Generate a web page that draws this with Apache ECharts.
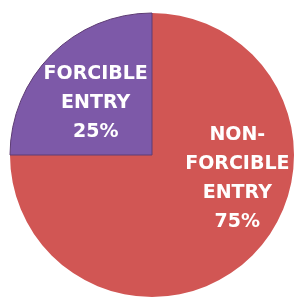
<!DOCTYPE html>
<html>
<head>
<meta charset="utf-8">
<script src="https://cdn.jsdelivr.net/npm/echarts@6/dist/echarts.min.js"></script>
<style>
  html, body { margin: 0; padding: 0; background: #fff; }
  #chart { width: 298px; height: 297px; }
</style>
</head>
<body>
<div id="chart"></div>
<script>
// slices, clockwise from 12 o'clock
const categories = ['NON-\nFORCIBLE\nENTRY', 'FORCIBLE\nENTRY'];
const values = [75, 25];
const colors = ['#d15654', '#7d59a8'];
const borders = [0, 1];
const labelOffsets = [[33, -29], [-4, 0]];

const chart = echarts.init(document.getElementById('chart'));

const data = categories.map((name, i) => ({
    name: name,
    value: values[i],
    itemStyle: {
        color: colors[i],
        borderWidth: borders[i],
        borderColor: '#5e3c74'
    },
    label: { offset: labelOffsets[i] }
}));

const option = {
    animation: false,
    series: [{
        type: 'pie',
        center: [152, 155],
        radius: 142,
        startAngle: 90,
        clockwise: true,
        data: data,
        label: {
            show: true,
            position: 'inside',
            formatter: '{b}\n{c}%',
            color: '#fff',
            fontFamily: 'DejaVu Sans',
            fontWeight: 'bold',
            fontSize: 19,
            lineHeight: 29,
            align: 'center'
        },
        labelLine: { show: false },
        emphasis: { disabled: true }
    }]
};

chart.setOption(option);
</script>
</body>
</html>
